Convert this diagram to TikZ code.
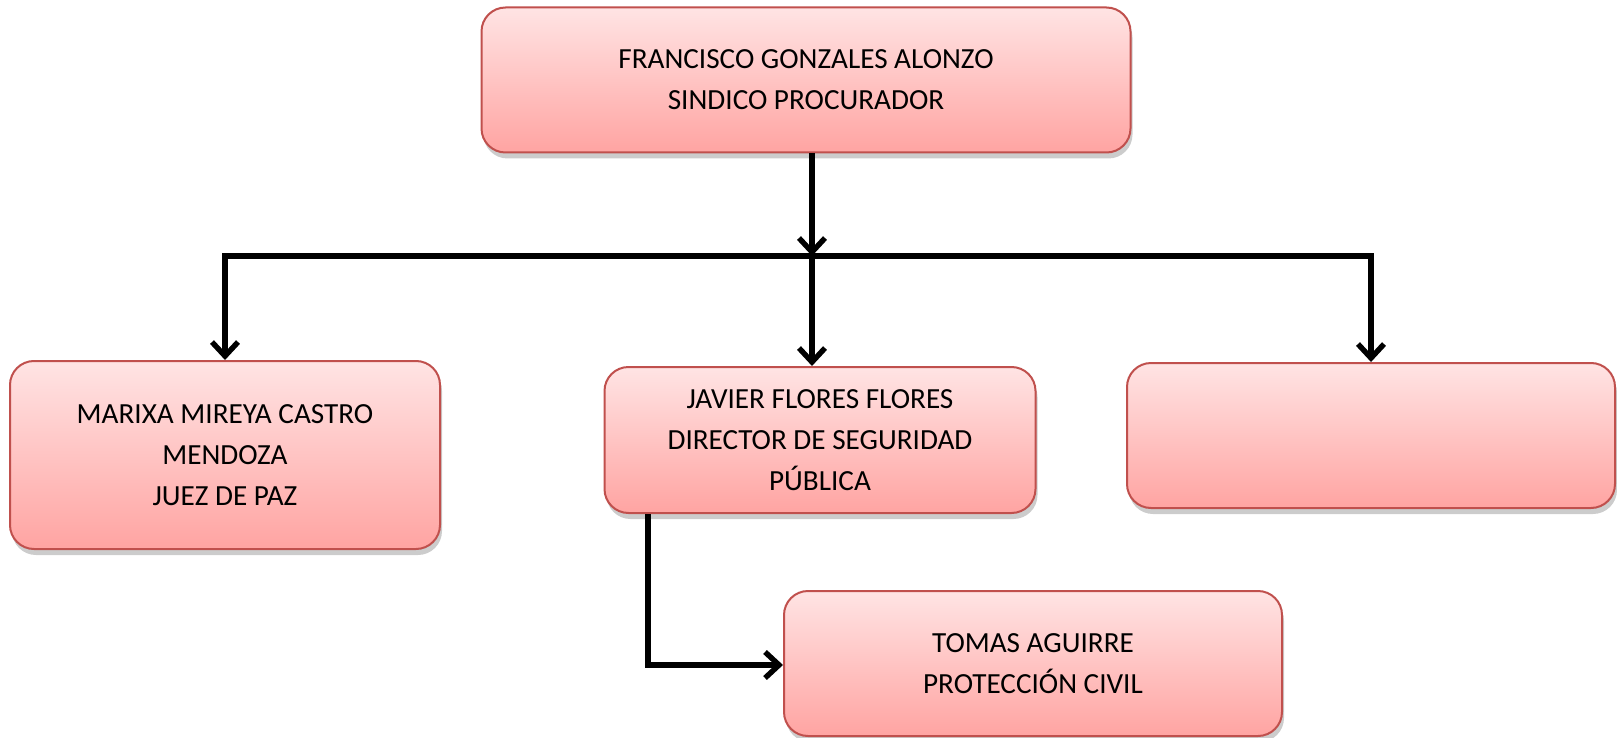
\documentclass[tikz,border=0pt]{standalone}
\usepackage{fontspec}
\setmainfont{Carlito}
\usetikzlibrary{arrows.meta, positioning, shadows}
\definecolor{boxtop}{HTML}{FFE4E4}
\definecolor{boxbot}{HTML}{FFA4A2}
\definecolor{boxline}{HTML}{C0504D}

\begin{document}
\begin{tikzpicture}[x=0.5pt, y=-0.5pt]
	\tikzset{box/.style={draw=boxline, line width=1pt, rounded corners=12pt, top color=boxtop, bottom color=boxbot, align=center, inner sep=0pt, font=\fontsize{14.6}{20.5}\selectfont, drop shadow={shadow xshift=1pt, shadow yshift=-3pt, opacity=0.4}},
		link/.style={line width=2.7pt, -{Straight Barb[length=7pt, width=13pt]}}}

	\useasboundingbox (0,0) rectangle (1617,738);

	\node[box, minimum width=324.5pt, minimum height=72.5pt] (sindico) at (806,80) {FRANCISCO GONZALES ALONZO\\SINDICO PROCURADOR};
	\node[box, minimum width=215pt, minimum height=94pt] (juez) at (225,455) {MARIXA MIREYA CASTRO\\MENDOZA\\JUEZ DE PAZ};
	\node[box, minimum width=215.5pt, minimum height=73pt] (director) at (820,440) {JAVIER FLORES FLORES\\DIRECTOR DE SEGURIDAD\\PÚBLICA};
	\node[box, minimum width=244pt, minimum height=72.5pt] (vacante) at (1371,435.5) {};
	\node[box, minimum width=249pt, minimum height=72.5pt] (proteccion) at (1033,663.5) {TOMAS AGUIRRE\\PROTECCIÓN CIVIL};

	\coordinate (split) at (812,256);
	\coordinate (bend) at (648,665);

	\draw[link] (sindico.south -| split) -- (split);
	\draw[link] (split) -| (juez.north);
	\draw[link] (split) -| (vacante.north);
	\draw[link] (split) -- (split |- director.north);
	\draw[link] (director.south -| bend) -- (bend) -- (bend -| proteccion.west);
\end{tikzpicture}
\end{document}
